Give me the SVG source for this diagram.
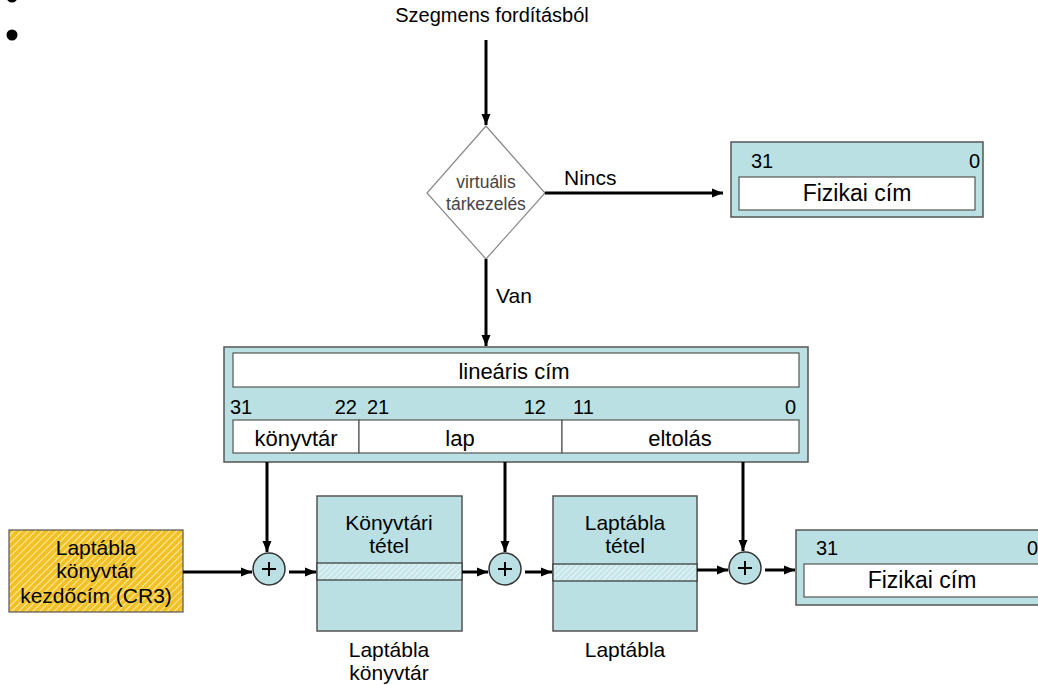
<svg xmlns="http://www.w3.org/2000/svg" width="1038" height="685" viewBox="0 0 1038 685">
<style>
text{font-family:"Liberation Sans",Arial,sans-serif;fill:#000}
.t20{font-size:20px}
.t21{font-size:21px}
.t22{font-size:22px}
.mid{text-anchor:middle}
.end{text-anchor:end}
.box{fill:#BBE0E3;stroke:#555;stroke-width:1.5}
.white{fill:#fff;stroke:#555;stroke-width:1.2}
.con{stroke:#000;stroke-width:3;fill:none;marker-end:url(#ah)}
.circ{fill:#BBE0E3;stroke:#333;stroke-width:1.5}
.plus{stroke:#000;stroke-width:2}
</style>
<defs>
<marker id="ah" markerUnits="userSpaceOnUse" markerWidth="12" markerHeight="10" refX="11" refY="5" orient="auto">
<path d="M0,0.5 L11,5 L0,9.5 z" fill="#000"/>
</marker>
<pattern id="yhatch" patternUnits="userSpaceOnUse" width="5" height="5" patternTransform="rotate(45)">
<rect width="5" height="5" fill="#F2C126"/>
<line x1="0" y1="0" x2="0" y2="5" stroke="#FFF6C8" stroke-width="1.6"/>
</pattern>
<pattern id="chatch" patternUnits="userSpaceOnUse" width="4" height="4" patternTransform="rotate(45)">
<rect width="4" height="4" fill="#C6E6E9"/>
<line x1="0" y1="0" x2="0" y2="4" stroke="#F4FBFC" stroke-width="1.6"/>
</pattern>
</defs>
<rect width="1038" height="685" fill="#fff"/>
<circle cx="12" cy="-3" r="5.5" fill="#000"/>
<circle cx="12" cy="35" r="5.5" fill="#000"/>

<g id="source">
<text class="t20 mid" x="492" y="22">Szegmens fordításból</text>
</g>

<g id="decision">
<polygon points="486,126 545,193 486,259 427,193" fill="#fff" stroke="#888" stroke-width="1.2"/>
<text x="486" y="188" class="mid" style="font-size:17.5px;fill:#444">virtuális</text>
<text x="486" y="210" class="mid" style="font-size:17.5px;fill:#444">tárkezelés</text>
</g>

<g id="phys-top">
<rect class="box" x="731" y="142" width="252" height="75"/>
<rect class="white" x="739" y="177" width="236" height="33"/>
<text class="t20" x="751" y="168">31</text>
<text class="t20 end" x="980" y="168">0</text>
<text class="mid" x="857" y="201" style="font-size:23px">Fizikai cím</text>
</g>

<g id="linear">
<rect class="box" x="224" y="347" width="584" height="115"/>
<rect class="white" x="233" y="353" width="566" height="34"/>
<text class="t22 mid" x="514" y="379">lineáris cím</text>
<text class="t20" x="230" y="414">31</text>
<text class="t20 end" x="357" y="414">22</text>
<text class="t20" x="367" y="414">21</text>
<text class="t20 end" x="546" y="414">12</text>
<text class="t20" x="573" y="414">11</text>
<text class="t20 end" x="796" y="414">0</text>
<rect class="white" x="233" y="420" width="126" height="33"/>
<rect class="white" x="359" y="420" width="203" height="33"/>
<rect class="white" x="562" y="420" width="237" height="33"/>
<text class="t22 mid" x="296" y="446">könyvtár</text>
<text class="t22 mid" x="460" y="446">lap</text>
<text class="t22 mid" x="680" y="446">eltolás</text>
</g>

<g id="cr3">
<rect x="9" y="530" width="174" height="82" fill="url(#yhatch)" stroke="#555" stroke-width="1.2"/>
<text class="t21 mid" x="96" y="555">Laptábla</text>
<text class="t21 mid" x="96" y="578">könyvtár</text>
<text class="t21 mid" x="96" y="603">kezdőcím (CR3)</text>
</g>

<g id="add1"><circle class="circ" cx="269" cy="569" r="16"/><path class="plus" d="M262,569 H276 M269,562 V576"/></g>
<g id="add2"><circle class="circ" cx="505" cy="569" r="16"/><path class="plus" d="M498,569 H512 M505,562 V576"/></g>
<g id="add3"><circle class="circ" cx="745" cy="568" r="16"/><path class="plus" d="M738,568 H752 M745,561 V575"/></g>

<g id="dir-table">
<rect class="box" x="317" y="496" width="145" height="135"/>
<rect x="317" y="563" width="145" height="17" fill="url(#chatch)" stroke="#333" stroke-width="1.2"/>
<text class="t21 mid" x="389" y="530">Könyvtári</text>
<text class="t21 mid" x="389" y="553">tétel</text>
<text class="t21 mid" x="389" y="657">Laptábla</text>
<text class="t21 mid" x="389" y="680">könyvtár</text>
</g>

<g id="page-table">
<rect class="box" x="553" y="496" width="144" height="135"/>
<rect x="553" y="564" width="144" height="17" fill="url(#chatch)" stroke="#333" stroke-width="1.2"/>
<text class="t21 mid" x="625" y="530">Laptábla</text>
<text class="t21 mid" x="625" y="553">tétel</text>
<text class="t21 mid" x="625" y="657">Laptábla</text>
</g>

<g id="phys-bottom">
<rect class="box" x="796" y="530" width="252" height="75"/>
<rect class="white" x="804" y="564" width="236" height="33"/>
<text class="t20" x="816" y="555">31</text>
<text class="t20 end" x="1038" y="555">0</text>
<text class="mid" x="922" y="588" style="font-size:23px">Fizikai cím</text>
</g>

<g id="connectors">
<line class="con" x1="486" y1="40" x2="486" y2="125"/>
<line class="con" x1="545" y1="193" x2="723" y2="193"/>
<text class="t21" x="564" y="185">Nincs</text>
<line class="con" x1="486" y1="259" x2="486" y2="346"/>
<text class="t21" x="496" y="303">Van</text>
<line class="con" x1="267" y1="462" x2="267" y2="552"/>
<line class="con" x1="505" y1="462" x2="505" y2="552"/>
<line class="con" x1="743" y1="462" x2="743" y2="551"/>
<line class="con" x1="183" y1="572" x2="252" y2="572"/>
<line class="con" x1="289" y1="572" x2="316" y2="572"/>
<line class="con" x1="462" y1="572" x2="488" y2="572"/>
<line class="con" x1="525" y1="572" x2="552" y2="572"/>
<line class="con" x1="697" y1="570" x2="728" y2="570"/>
<line class="con" x1="765" y1="570" x2="795" y2="570"/>
</g>
</svg>
